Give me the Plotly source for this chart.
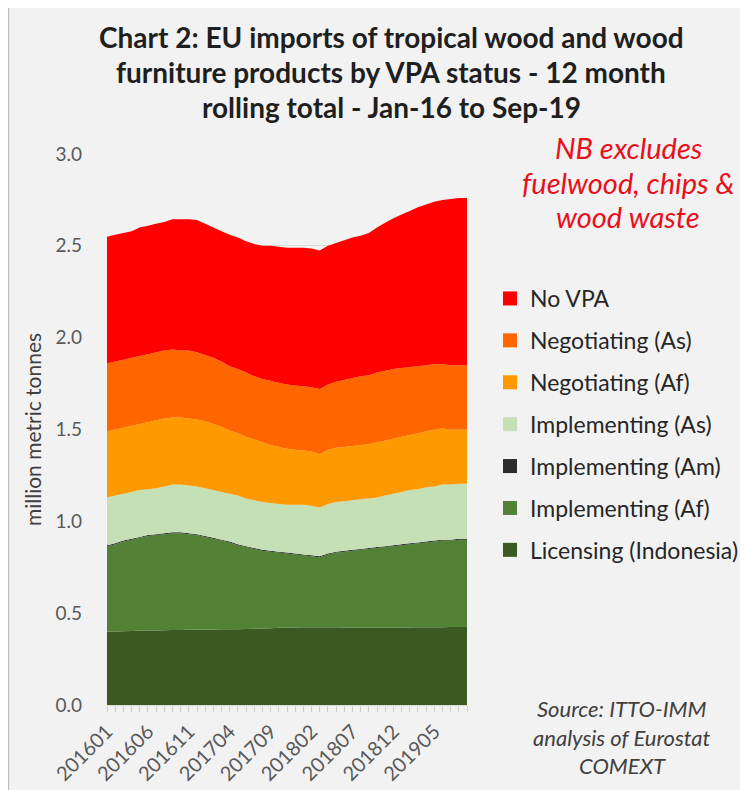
import plotly.graph_objects as go

months = ["201601","201602","201603","201604","201605","201606","201607","201608","201609","201610","201611","201612",
          "201701","201702","201703","201704","201705","201706","201707","201708","201709","201710","201711","201712",
          "201801","201802","201803","201804","201805","201806","201807","201808","201809","201810","201811","201812",
          "201901","201902","201903","201904","201905","201906","201907","201908","201909"]
tick_labels = ["201601","201606","201611","201704","201709","201802","201807","201812","201905"]

licensing_indonesia = [0.400,0.400,0.402,0.403,0.404,0.405,0.406,0.407,0.408,0.409,0.410,0.410,
                       0.410,0.411,0.412,0.412,0.413,0.414,0.415,0.416,0.418,0.420,0.421,0.422,
                       0.423,0.424,0.424,0.424,0.423,0.422,0.421,0.420,0.420,0.420,0.421,0.421,
                       0.422,0.422,0.423,0.423,0.424,0.424,0.425,0.425,0.425]
implementing_af = [0.465,0.475,0.488,0.497,0.506,0.515,0.519,0.523,0.527,0.526,0.520,0.515,
                   0.505,0.494,0.483,0.473,0.457,0.446,0.435,0.424,0.417,0.410,0.404,0.398,
                   0.392,0.386,0.381,0.396,0.407,0.413,0.419,0.425,0.430,0.435,0.439,0.444,
                   0.448,0.453,0.457,0.462,0.466,0.471,0.470,0.475,0.475]
implementing_am = [0.005,0.005,0.005,0.005,0.005,0.005,0.005,0.005,0.005,0.005,0.005,0.005,
                   0.005,0.005,0.005,0.005,0.005,0.005,0.005,0.005,0.005,0.005,0.005,0.005,
                   0.005,0.005,0.005,0.005,0.005,0.005,0.005,0.005,0.005,0.005,0.005,0.005,
                   0.005,0.005,0.005,0.005,0.005,0.005,0.005,0.005,0.005]
implementing_as = [0.260,0.260,0.255,0.255,0.255,0.250,0.250,0.255,0.260,0.260,0.260,0.260,
                   0.260,0.260,0.260,0.260,0.265,0.260,0.260,0.260,0.260,0.260,0.260,0.265,
                   0.270,0.270,0.265,0.270,0.270,0.270,0.270,0.270,0.270,0.270,0.275,0.280,
                   0.285,0.290,0.290,0.295,0.295,0.300,0.300,0.300,0.300]
negotiating_af = [0.360,0.360,0.360,0.360,0.360,0.365,0.370,0.370,0.365,0.365,0.365,0.365,
                  0.365,0.360,0.355,0.345,0.340,0.335,0.330,0.325,0.315,0.310,0.305,0.300,
                  0.295,0.295,0.290,0.295,0.295,0.295,0.295,0.295,0.295,0.300,0.300,0.300,
                  0.300,0.300,0.305,0.305,0.310,0.305,0.300,0.295,0.295]
negotiating_as = [0.370,0.370,0.370,0.370,0.370,0.370,0.370,0.370,0.370,0.365,0.370,0.365,
                  0.360,0.360,0.355,0.350,0.350,0.350,0.345,0.345,0.350,0.350,0.350,0.350,
                  0.350,0.350,0.355,0.355,0.360,0.365,0.370,0.375,0.375,0.380,0.380,0.380,
                  0.375,0.370,0.365,0.360,0.355,0.350,0.350,0.350,0.350]
no_vpa = [0.690,0.690,0.690,0.690,0.700,0.700,0.700,0.700,0.710,0.715,0.715,0.720,
          0.715,0.710,0.710,0.715,0.715,0.715,0.720,0.725,0.735,0.740,0.745,0.750,
          0.755,0.755,0.755,0.755,0.755,0.760,0.765,0.765,0.775,0.790,0.805,0.820,
          0.835,0.850,0.865,0.875,0.885,0.895,0.905,0.910,0.910]

series_names = ["Licensing (Indonesia)", "Implementing (Af)", "Implementing (Am)", "Implementing (As)",
                "Negotiating (Af)", "Negotiating (As)", "No VPA"]
series_values = [licensing_indonesia, implementing_af, implementing_am, implementing_as,
                 negotiating_af, negotiating_as, no_vpa]
series_colors = ["#3A5A22", "#538135", "#2B2B2B", "#C5E0B4", "#FF9900", "#FF6600", "#FF0000"]

FONT = "Lato"
OFF = 8                      # page offset of the figure (body margin)
W, H = 748 - OFF, 790 - OFF  # figure size
L, R, T, B = 107, 467, 154, 705   # plot area in page pixels

def px(x):
    return (x - L) / (R - L)

def py(y):
    return (B - y) / (B - T)

fig = go.Figure()
for name, vals, col in zip(series_names, series_values, series_colors):
    fig.add_trace(go.Scatter(x=months, y=vals, name=name, stackgroup="one", mode="none",
                             fillcolor=col, showlegend=False, hoverinfo="x+y+name"))

# legend entries (top to bottom as in the reference)
for name, col in zip(series_names[::-1], series_colors[::-1]):
    fig.add_trace(go.Scatter(x=[None], y=[None], mode="markers", name=name, legendgroup=name,
                             marker=dict(symbol="square", size=14, color=col)))

fig.update_layout(
    width=W, height=H,
    margin=dict(l=L - OFF, r=W - (R - OFF), t=T - OFF, b=H - (B - OFF), autoexpand=False),
    paper_bgcolor="#F2F2F2", plot_bgcolor="#F2F2F2",
    font=dict(family=FONT, color="#404040"),
    showlegend=True,
    legend=dict(x=px(490), y=py(277), xanchor="left", yanchor="top",
                traceorder="grouped", tracegroupgap=9, bgcolor="rgba(0,0,0,0)",
                font=dict(family=FONT, size=23, color="#262626"), itemclick=False),
    xaxis=dict(type="category", range=[0, len(months) - 1], tickvals=months,
               ticktext=[m if m in tick_labels else "" for m in months],
               tickangle=-45, ticks="outside", ticklen=6, tickcolor="#D0D0D0",
               showline=True, linecolor="#D9D9D9", showgrid=False, automargin=False,
               tickfont=dict(family=FONT, size=20, color="#595959")),
    yaxis=dict(range=[0, 3.0], dtick=0.5, tickformat=".1f", showgrid=True, gridcolor="#D9D9D9",
               zeroline=False, showline=False, ticks="", ticklabelstandoff=24, automargin=False,
               tickfont=dict(family=FONT, size=19, color="#595959"),
               title=dict(text="million metric tonnes", standoff=8,
                          font=dict(family=FONT, size=21, color="#404040"))),
)

annos = []
for txt, y in [("Chart 2: EU imports of tropical wood and wood", 37),
               ("furniture products by VPA status - 12 month", 72),
               ("rolling total - Jan-16 to Sep-19", 107)]:
    annos.append(dict(text="<b>" + txt + "</b>", x=px(391), y=py(y), xref="paper", yref="paper",
                      showarrow=False, xanchor="center", yanchor="middle",
                      font=dict(family=FONT, size=28, color="#1F1F1F")))
for txt, y in [("NB excludes", 148), ("fuelwood, chips &", 182), ("wood waste", 216)]:
    annos.append(dict(text="<i>" + txt + "</i>", x=px(628), y=py(y), xref="paper", yref="paper",
                      showarrow=False, xanchor="center", yanchor="middle",
                      font=dict(family=FONT, size=29, color="#E8101A")))
for txt, y in [("Source: ITTO-IMM", 708), ("analysis of Eurostat", 737), ("COMEXT", 765)]:
    annos.append(dict(text="<i>" + txt + "</i>", x=px(622), y=py(y), xref="paper", yref="paper",
                      showarrow=False, xanchor="center", yanchor="middle",
                      font=dict(family=FONT, size=22, color="#404040")))
fig.update_layout(annotations=annos)

fig.add_shape(type="rect", xref="paper", yref="paper", x0=px(8.5), y0=py(820), x1=px(800), y1=py(6.5),
              line=dict(color="#BFBFBF", width=1.5), fillcolor="rgba(0,0,0,0)", layer="below")

fig.write_html("out.html")
